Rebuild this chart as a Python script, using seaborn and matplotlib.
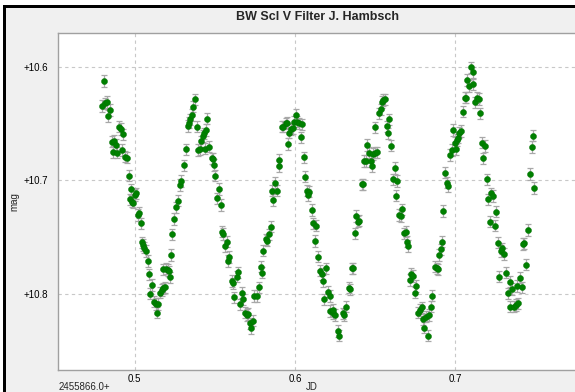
import matplotlib
matplotlib.use("Agg")
import matplotlib.pyplot as plt
import seaborn as sns
import pandas as pd
from matplotlib.patches import Rectangle

# BW Scl, V filter photometry (J. Hambsch); JD given as offset from 2455866.0
jd = [0.4807, 0.4799, 0.4815, 0.4826, 0.4836, 0.4847, 0.4857, 0.4863, 0.4872, 0.4882,
      0.4888, 0.4903, 0.4913, 0.4923, 0.4930, 0.4940, 0.4951, 0.4963, 0.4978, 0.4971,
      0.4982, 0.4988, 0.5002, 0.5009, 0.5023, 0.5029, 0.5038, 0.5048, 0.5054, 0.5060,
      0.5071, 0.5082, 0.5088, 0.5098, 0.5108, 0.5121, 0.5132, 0.5138, 0.5148, 0.5158,
      0.5169, 0.5179, 0.5190, 0.5179, 0.5196, 0.5206, 0.5214, 0.5219, 0.5227, 0.5235,
      0.5246, 0.5258, 0.5269, 0.5280, 0.5289, 0.5308, 0.5319, 0.5331, 0.5339, 0.5345,
      0.5356, 0.5366, 0.5377, 0.5387, 0.5397, 0.5408, 0.5416, 0.5425, 0.5433, 0.5443,
      0.5439, 0.5453, 0.5466, 0.5483, 0.5491, 0.5495, 0.5503, 0.5526, 0.5516, 0.5537,
      0.5543, 0.5553, 0.5564, 0.5574, 0.5584, 0.5590, 0.5605, 0.5612, 0.5622, 0.5637,
      0.5647, 0.5657, 0.5668, 0.5678, 0.5688, 0.5699, 0.5709, 0.5719, 0.5726, 0.5740,
      0.5746, 0.5761, 0.5777, 0.5788, 0.5794, 0.5802, 0.5819, 0.5827, 0.5838, 0.5849,
      0.5865, 0.5855, 0.5888, 0.5877, 0.5898, 0.5902, 0.5917, 0.5927, 0.5944, 0.5952,
      0.5954, 0.5964, 0.5973, 0.5986, 0.5996, 0.6011, 0.6008, 0.6027, 0.6046, 0.6036,
      0.6056, 0.6062, 0.6077, 0.6089, 0.6083, 0.6106, 0.6114, 0.6131, 0.6123, 0.6143,
      0.6156, 0.6166, 0.6193, 0.6173, 0.6204, 0.6218, 0.6183, 0.6218, 0.6235, 0.6249,
      0.6239, 0.6266, 0.6274, 0.6297, 0.6307, 0.6318, 0.6337, 0.6343, 0.6354, 0.6363,
      0.6376, 0.6380, 0.6395, 0.6401, 0.6416, 0.6422, 0.6432, 0.6441, 0.6451, 0.6463,
      0.6472, 0.6478, 0.6488, 0.6499, 0.6509, 0.6501, 0.6522, 0.6534, 0.6541, 0.6551,
      0.6559, 0.6574, 0.6588, 0.6582, 0.6597, 0.6622, 0.6609, 0.6638, 0.6632, 0.6667,
      0.6650, 0.6661, 0.6680, 0.6692, 0.6696, 0.6706, 0.6717, 0.6721, 0.6738, 0.6754,
      0.6746, 0.6769, 0.6779, 0.6790, 0.6800, 0.6817, 0.6837, 0.6806, 0.6827, 0.6846,
      0.6856, 0.6873, 0.6883, 0.6893, 0.6900, 0.6908, 0.6916, 0.6925, 0.6937, 0.6950,
      0.6956, 0.6966, 0.6979, 0.6987, 0.6998, 0.7002, 0.7008, 0.7014, 0.7024, 0.7035,
      0.7046, 0.7062, 0.7066, 0.7074, 0.7087, 0.7095, 0.7108, 0.7112, 0.7124, 0.7133,
      0.7145, 0.7155, 0.7164, 0.7185, 0.7174, 0.7195, 0.7222, 0.7233, 0.7205, 0.7255,
      0.7216, 0.7245, 0.7266, 0.7291, 0.7284, 0.7303, 0.7272, 0.7316, 0.7340, 0.7353,
      0.7326, 0.7382, 0.7403, 0.7415, 0.7340, 0.7365, 0.7378, 0.7390, 0.7453, 0.7428,
      0.7420, 0.7440, 0.7486, 0.7476, 0.7465, 0.7492]

mag = [10.6126, 10.6345, 10.6322, 10.6310, 10.6433, 10.6381, 10.6659, 10.6750, 10.6653, 10.6688,
       10.6756, 10.6527, 10.6547, 10.6732, 10.6594, 10.6791, 10.6800, 10.6958, 10.7079, 10.7165,
       10.7186, 10.7195, 10.7127, 10.7112, 10.7303, 10.7283, 10.7376, 10.7543, 10.7567, 10.7591,
       10.7620, 10.7707, 10.7824, 10.7995, 10.7918, 10.8065, 10.8085, 10.8162, 10.8085, 10.7986,
       10.7962, 10.7947, 10.7939, 10.7780, 10.7775, 10.7787, 10.7798, 10.7851, 10.7655, 10.7473,
       10.7338, 10.7236, 10.7178, 10.7040, 10.7004, 10.6866, 10.6726, 10.6521, 10.6492, 10.6462,
       10.6424, 10.6352, 10.6287, 10.6527, 10.6732, 10.6726, 10.6656, 10.6609, 10.6585, 10.6556,
       10.6721, 10.6457, 10.6703, 10.6805, 10.6811, 10.6864, 10.6958, 10.7075, 10.7156, 10.7215,
       10.7450, 10.7470, 10.7576, 10.7538, 10.7707, 10.7672, 10.7883, 10.7903, 10.8026, 10.7845,
       10.7807, 10.8088, 10.7986, 10.8044, 10.8162, 10.8182, 10.8173, 10.8255, 10.8299, 10.8232,
       10.8015, 10.8015, 10.7939, 10.7757, 10.7810, 10.7617, 10.7517, 10.7529, 10.7473, 10.7406,
       10.7171, 10.7090, 10.7090, 10.7019, 10.6873, 10.6820, 10.6527, 10.6527, 10.6497, 10.6492,
       10.6679, 10.6580, 10.6550, 10.6541, 10.6483, 10.6483, 10.6422, 10.6497, 10.6506, 10.6620,
       10.6796, 10.6967, 10.7090, 10.7098, 10.7127, 10.7259, 10.7376, 10.7397, 10.7532, 10.7670,
       10.7793, 10.7822, 10.7772, 10.7883, 10.7977, 10.8015, 10.8044, 10.8147, 10.8167, 10.8182,
       10.8138, 10.8322, 10.8362, 10.8167, 10.8182, 10.8109, 10.7942, 10.7956, 10.7772, 10.7772,
       10.7464, 10.7312, 10.7362, 10.7353, 10.7033, 10.7033, 10.6829, 10.6829, 10.6688, 10.6756,
       10.6829, 10.6873, 10.6767, 10.6756, 10.6752, 10.6533, 10.6410, 10.6374, 10.6310, 10.6293,
       10.6287, 10.6524, 10.6462, 10.6585, 10.6694, 10.6890, 10.6989, 10.7004, 10.7134, 10.7253,
       10.7303, 10.7312, 10.7464, 10.7450, 10.7538, 10.7576, 10.7874, 10.7822, 10.7839, 10.7927,
       10.7986, 10.8162, 10.8138, 10.8114, 10.8220, 10.8197, 10.8182, 10.8293, 10.8364, 10.8109,
       10.8012, 10.7757, 10.7772, 10.7780, 10.7655, 10.7605, 10.7538, 10.7268, 10.6931, 10.7019,
       10.7048, 10.6776, 10.6732, 10.6556, 10.6668, 10.6726, 10.6644, 10.6624, 10.6580, 10.6565,
       10.6395, 10.6272, 10.6272, 10.6117, 10.6170, 10.6005, 10.6155, 10.6049, 10.6313, 10.6272,
       10.6284, 10.6410, 10.6668, 10.6697, 10.6805, 10.6989, 10.7112, 10.7136, 10.7165, 10.7274,
       10.7362, 10.7397, 10.7547, 10.7596, 10.7620, 10.7646, 10.7845, 10.7810, 10.7889, 10.7953,
       10.7991, 10.7927, 10.7854, 10.7939, 10.8109, 10.8109, 10.8094, 10.8079, 10.7435, 10.7552,
       10.7558, 10.7740, 10.6606, 10.6706, 10.6943, 10.7066]

mag_err = 0.005

x_ticks = [0.5, 0.6, 0.7]
x_tick_labels = ["0.5", "0.6", "0.7"]
y_ticks = [10.6, 10.7, 10.8]
y_tick_labels = ["+10.6", "+10.7", "+10.8"]

df = pd.DataFrame({"jd": jd, "mag": mag})

sns.set_theme(style="white")
plt.rcParams["font.family"] = ["Liberation Sans", "DejaVu Sans"]

W, H = 575, 392
fig = plt.figure(figsize=(W / 100, H / 100), dpi=100, facecolor="#f0f0f0")


def fx(px):
    return px / W


def fy(py):
    return 1 - py / H


# window frame: thin black border on top and left
fig.add_artist(Rectangle((0, 0), fx(3.0), 1, transform=fig.transFigure,
                         facecolor="white", edgecolor="none", zorder=0))
fig.add_artist(Rectangle((0, fy(5.0)), 1, 1 - fy(5.0), transform=fig.transFigure,
                         facecolor="white", edgecolor="none", zorder=0))
fig.add_artist(Rectangle((fx(3.0), 0), fx(2.6), fy(5.0), transform=fig.transFigure,
                         facecolor="black", edgecolor="none", zorder=1))
fig.add_artist(Rectangle((fx(3.0), fy(7.6)), 1, fy(5.0) - fy(7.6), transform=fig.transFigure,
                         facecolor="black", edgecolor="none", zorder=1))

ax = fig.add_axes([fx(58.3), fy(370), fx(620) - fx(58.3), fy(33.3) - fy(370)])
ax.set_facecolor("white")
ax.set_xlim(0.45243, 0.80262)
ax.set_ylim(10.8665, 10.5707)

ax.errorbar(df["jd"], df["mag"], yerr=mag_err, fmt="none", ecolor="#a8a8a8",
            elinewidth=0.9, capsize=2.4, capthick=0.9, zorder=2)
sns.scatterplot(data=df, x="jd", y="mag", color="#008000", s=19,
                edgecolor="#007000", linewidth=0.3, ax=ax, zorder=3)

ax.set_xticks(x_ticks)
ax.set_xticklabels(x_tick_labels)
ax.set_yticks(y_ticks)
ax.set_yticklabels(y_tick_labels)
ax.grid(True, linestyle=(0, (3, 3)), color="#c8c8c8", linewidth=0.8)
ax.tick_params(axis="both", length=0, labelsize=7, colors="black")
ax.tick_params(axis="y", pad=7.4)
ax.tick_params(axis="x", pad=3.0)
ax.set_xlabel("")
ax.set_ylabel("")

for side in ["left", "bottom", "top"]:
    ax.spines[side].set_color("#a0a0a0")
    ax.spines[side].set_linewidth(1.0)
ax.spines["right"].set_visible(False)

fig.text(fx(317), fy(17), "BW Scl V Filter J. Hambsch", ha="center", va="center",
         fontsize=9, fontweight="bold")
fig.text(fx(14), fy(202), "mag", rotation=90, ha="center", va="center", fontsize=7)
fig.text(fx(312), fy(387), "JD", ha="center", va="center", fontsize=7)
fig.text(fx(59), fy(387), "2455866.0+", ha="left", va="center", fontsize=7)

fig.savefig("out.png", dpi=100, facecolor=fig.get_facecolor())
